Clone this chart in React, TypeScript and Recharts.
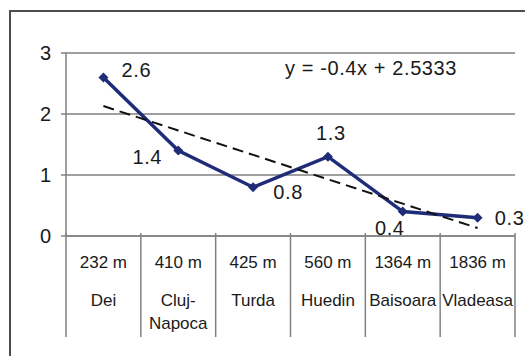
import { LineChart, Line, XAxis, YAxis, CartesianGrid, LabelList } from 'recharts'

// Stations (category axis) and their altitude row
const stations = ['Dei', 'Cluj-Napoca', 'Turda', 'Huedin', 'Baisoara', 'Vladeasa']
const altitudes = ['232 m', '410 m', '425 m', '560 m', '1364 m', '1836 m']
// Measured series
const values = [2.6, 1.4, 0.8, 1.3, 0.4, 0.3]
// Linear trendline values
const trend = [2.13, 1.73, 1.33, 0.93, 0.53, 0.13]
const yTicks = [0, 1, 2, 3]
const equation = 'y = -0.4x + 2.5333'

const data = stations.map((name, i) => ({
  name,
  altitude: altitudes[i],
  value: values[i],
  trend: trend[i],
}))

const W = 525
const H = 356
const Y_AXIS_W = 66
const X_AXIS_H = 120
const MARGIN = { top: 53, right: 10, left: 0, bottom: 0 }
const BAND = (W - Y_AXIS_W - MARGIN.left - MARGIN.right) / stations.length

const NAVY = '#1f2c78'
const GRID = '#808080'
const TEXT = '#1a1a1a'
const FONT = '"Liberation Sans", Arial, sans-serif'

const Diamond = ({ cx, cy }: any) => {
  if (cx == null || cy == null) return null
  return <path d={`M${cx},${cy - 5}L${cx + 5},${cy}L${cx},${cy + 5}L${cx - 5},${cy}Z`} fill={NAVY} />
}

// manual placement of each value label, like in the original sheet
const labelShift = [[33, -7], [-31, 6], [35, 5], [3, -24], [-13, 16], [32, 0]]

const ValueLabel = ({ x, y, value, index }: any) => {
  const [dx, dy] = labelShift[index] || [0, 0]
  return (
    <text x={x + dx} y={y + dy} textAnchor="middle" dominantBaseline="central"
      fontSize={20} letterSpacing={0.6} fill={TEXT} fontFamily={FONT}>
      {value}
    </text>
  )
}

const CategoryTick = ({ x, y, index }: any) => {
  const half = BAND / 2
  const lines = stations[index].replace('-', '-\n').split('\n')
  return (
    <g fontFamily={FONT} fill={TEXT}>
      <line x1={x - half} x2={x - half} y1={y - 3} y2={y + 101} stroke={GRID} strokeWidth={1.5} />
      {index === stations.length - 1 && (
        <line x1={x + half} x2={x + half} y1={y - 3} y2={y + 101} stroke={GRID} strokeWidth={1.5} />
      )}
      <text x={x} y={y + 32} textAnchor="middle" fontSize={17}>{altitudes[index]}</text>
      {lines.map((s, k) => (
        <text key={k} x={x} y={y + 70 + k * 23} textAnchor="middle" fontSize={17}>{s}</text>
      ))}
    </g>
  )
}

export default function App() {
  return (
    <div style={{ position: 'fixed', left: 0, top: 0, width: W, height: H, overflow: 'hidden', background: '#fff' }}>
      <div style={{
        position: 'absolute', left: 9, top: 10, width: 600, height: 420,
        border: '2px solid #4d4d4d', boxSizing: 'border-box',
      }} />
      <div style={{ position: 'absolute', left: 0, top: 0 }}>
        <LineChart width={W} height={H} data={data} margin={MARGIN}>
          <CartesianGrid vertical={false} stroke={GRID} strokeWidth={1.5} />
          <XAxis
            dataKey="name"
            height={X_AXIS_H}
            interval={0}
            padding={{ left: BAND / 2, right: BAND / 2 }}
            tickSize={0}
            tickMargin={0}
            tickLine={false}
            axisLine={{ stroke: GRID, strokeWidth: 1.5 }}
            tick={<CategoryTick />}
          />
          <YAxis
            width={Y_AXIS_W}
            domain={[0, 3]}
            ticks={yTicks}
            interval={0}
            tickSize={5}
            tickMargin={10}
            tickLine={{ stroke: GRID, strokeWidth: 1.5 }}
            axisLine={{ stroke: GRID, strokeWidth: 1.5 }}
            tick={{ fill: TEXT, fontSize: 20, fontFamily: FONT }}
          />
          <Line
            dataKey="value"
            stroke={NAVY}
            strokeWidth={3.5}
            dot={<Diamond />}
            activeDot={false}
            isAnimationActive={false}
          >
            <LabelList dataKey="value" content={<ValueLabel />} />
          </Line>
          <Line
            dataKey="trend"
            stroke="#111"
            strokeWidth={2}
            strokeDasharray="11 6"
            dot={false}
            activeDot={false}
            isAnimationActive={false}
          />
        </LineChart>
      </div>
      <div style={{
        position: 'absolute', left: 285, top: 55, fontSize: 20, fontFamily: FONT,
        color: TEXT, letterSpacing: 0.6, whiteSpace: 'nowrap', lineHeight: '26px',
      }}>
        {equation}
      </div>
    </div>
  )
}
